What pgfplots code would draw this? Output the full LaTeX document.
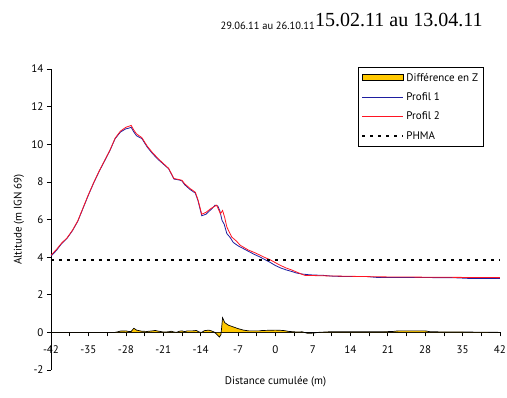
\documentclass[border=0pt]{standalone}
\usepackage{pgfplots}
\pgfplotsset{compat=1.18}
\usepackage{fontspec}
\setmainfont{PT Sans}
\newfontfamily\timesfont{Liberation Serif}
\definecolor{prof1}{RGB}{30,30,160}
\definecolor{prof2}{RGB}{255,20,35}
\definecolor{gold}{RGB}{255,200,0}

\begin{document}
\begin{tikzpicture}
\begin{axis}[
  at={(0pt,0pt)}, anchor=south west,
  scale only axis, width=449pt, height=301pt,
  xmin=-42, xmax=42, ymin=-2, ymax=14,
  axis x line=middle, axis y line=left,
  axis line style={-, line width=0.8pt, black},
  hide obscured x ticks=false, hide obscured y ticks=false,
  xtick={-42,-35,...,42}, ytick={-2,0,...,14},
  minor x tick num=1,
  tick align=outside,
  major tick length=4pt, minor tick length=4pt,
  tick style={black, line width=0.6pt},
  /pgf/number format/assume math mode=true,
  tick label style={font=\fontsize{11}{13}\selectfont},
  xticklabel style={yshift=-6pt},
  every axis x label/.style={at={(axis description cs:0.5,0)}, anchor=center, yshift=-12pt, font=\fontsize{11}{13}\selectfont},
  every axis y label/.style={at={([xshift=-32pt]axis description cs:0,0.5)}, anchor=center, rotate=90, font=\fontsize{11}{13}\selectfont},
  xlabel={Distance cumulée (m)},
  ylabel={Altitude (m IGN 69)},
  legend style={at={(rel axis cs:0.684,1.007)}, anchor=north west, draw=black, line width=0.6pt,
    font=\fontsize{11}{13}\selectfont, row sep=6pt, inner xsep=3pt, inner ysep=4pt},
  legend cell align=left,
  legend image code/.code={\draw[#1] (0pt,0pt) -- (41pt,0pt);},
]
\addplot[fill=gold, draw=black, line width=0.7pt,
  legend image code/.code={\draw[fill=gold,draw=black,line width=0.8pt] (0pt,-3pt) rectangle (41pt,3pt);}]
coordinates {
(-42,0) (-30,0) (-29.5,0.03) (-29,0.07) (-28,0.08) (-27.5,0.05) (-27,0.05) (-26.5,0.22) (-26,0.12)
(-25,0.06) (-24,0.05) (-23,0.08) (-22.5,0.1) (-22,0.07) (-21,0.02) (-20,0.03) (-19.5,0.06) (-19,0.02)
(-18.5,0.0) (-18,0.06) (-17.5,0.08) (-17,0.04) (-16.5,0.08) (-15.5,0.08) (-14.8,0.1) (-14.3,0.02)
(-13.8,0.0) (-13.3,0.09) (-12.5,0.12) (-12,0.08) (-11.5,0.02) (-11,-0.1) (-10.5,-0.25) (-10.2,-0.12)
(-9.9,0.78) (-9.5,0.52) (-8.8,0.38) (-8,0.3) (-7,0.2) (-6,0.12) (-5,0.08) (-3,0.08) (-2.5,0.1)
(0,0.12) (1.5,0.1) (2.5,0.05) (4,0.02) (5,0.03) (6,-0.05) (7,-0.04) (8,0.0) (10,0.03) (14,0.03)
(20,0.03) (22,0.05) (23,0.08) (28,0.08) (29,0.03) (35,0.02) (42,0)
} \closedcycle;
\addlegendentry{Différence en Z}
\addplot[prof1, line width=0.8pt]
coordinates {
(-42,4.05) (-41,4.35) (-40,4.72) (-39,5.0) (-38,5.4) (-37,5.9) (-36,6.6) (-35,7.3) (-34,7.95)
(-33,8.55) (-32,9.1) (-31,9.65) (-30,10.3) (-29,10.65) (-28,10.82) (-27.5,10.85) (-27,10.9)
(-26.5,10.65) (-26,10.45) (-25,10.3) (-24,9.85) (-23,9.5) (-22,9.2) (-21,8.95) (-20,8.7) (-19,8.15)
(-18,8.1) (-17.5,8.05) (-17,7.85) (-16,7.6) (-15,7.4) (-14.5,7.0) (-13.8,6.2) (-13,6.28) (-12,6.55)
(-11.3,6.76) (-10.8,6.72) (-10.4,6.45) (-10,5.95) (-9.6,5.75) (-9.1,5.25) (-8.5,5.05) (-7.9,4.78)
(-7,4.6) (-6,4.45) (-5,4.3) (-4,4.15) (-3,4.02) (-2,3.87) (-1,3.72) (0,3.55) (1,3.42) (2,3.32)
(3,3.24) (4,3.15) (5,3.1) (6,3.07) (7,3.05) (9,3.03) (11,2.98) (14,2.97) (17,2.97) (19,2.92)
(25,2.92) (30,2.91) (33,2.91) (36,2.87) (42,2.86)
};
\addlegendentry{Profil 1}
\addplot[prof2, line width=0.8pt]
coordinates {
(-42,4.1) (-41,4.4) (-40,4.75) (-39,5.02) (-38,5.42) (-37,5.92) (-36,6.62) (-35,7.32) (-34,7.97)
(-33,8.57) (-32,9.12) (-31,9.67) (-30,10.32) (-29,10.7) (-28,10.9) (-27.5,10.95) (-27,11.0)
(-26.5,10.75) (-26,10.55) (-25,10.35) (-24,9.9) (-23,9.55) (-22,9.25) (-21,8.98) (-20,8.72) (-19,8.18)
(-18,8.12) (-17.5,8.08) (-17,7.9) (-16,7.65) (-15,7.45) (-14.5,7.05) (-13.8,6.28) (-13,6.38) (-12,6.6)
(-11,6.76) (-10.3,6.3) (-9.9,6.48) (-9.5,6.1) (-9.1,5.6) (-8.2,5.07) (-7.3,4.85) (-6.6,4.63)
(-5.1,4.38) (-4,4.25) (-3,4.12) (-2,3.98) (-1,3.86) (0,3.7) (1,3.55) (2,3.42) (3,3.32) (4,3.2)
(5,3.08) (5.5,3.03) (7,3.02) (10,3.0) (14,2.98) (20,2.95) (30,2.93) (42,2.91)
};
\addlegendentry{Profil 2}
\addplot[black, line width=2pt, dash pattern=on 3pt off 5pt]
coordinates {(-42,3.83) (42,3.83)};
\addlegendentry{PHMA}
\end{axis}
\node[anchor=base east, inner sep=0pt, font=\fontsize{10.5}{12}\selectfont] at (264pt,340.5pt) {29.06.11 au 26.10.11};
\node[anchor=base west, inner sep=0pt, font=\timesfont\fontsize{20}{24}\selectfont] at (264pt,343pt) {15.02.11 au 13.04.11};
\pgfresetboundingbox
\useasboundingbox (-51pt,-28pt) rectangle (456pt,370pt);
\end{tikzpicture}
\end{document}
